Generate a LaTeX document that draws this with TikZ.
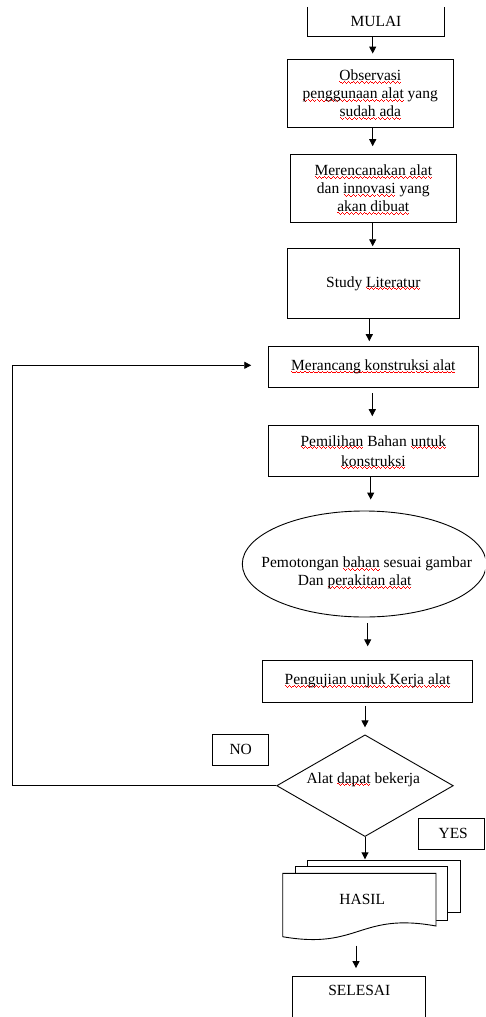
\documentclass[tikz,border=0pt]{standalone}
\usepackage{fontspec}
\setmainfont{Liberation Serif}
\usetikzlibrary{arrows.meta,shapes.geometric}
\newsavebox\sqbox
\newcommand\wavecell{\rule[-1.3pt]{1.1pt}{1pt}\rule[-2.1pt]{1.1pt}{1pt}\rule[-2.9pt]{1.1pt}{1pt}\rule[-2.1pt]{1.1pt}{1pt}}
\newcommand\sqw[1]{\sbox\sqbox{#1}\leavevmode\rlap{\smash{\color{red}\hbox to \wd\sqbox{\xleaders\hbox{\wavecell}\hfill}}}\usebox\sqbox}
\begin{document}
\begin{tikzpicture}[x=1pt,y=-1pt,
  every node/.append style={font=\fontsize{15.5}{18}\selectfont},
  line/.style={draw=black, line width=0.9pt},
  box/.style={line, inner sep=0pt, align=center},
  arr/.style={line, -{Triangle[length=7pt,width=7pt]}}]
\useasboundingbox (0,0) rectangle (485,1017);
\clip (0,0) rectangle (485,1017);

% MULAI (top edge outside the page)
\node[align=center, inner sep=0pt, minimum width=136pt, minimum height=29pt] (mulai) at (376,21.5) {MULAI};
\draw[line] (mulai.north west) -- (mulai.south west) -- (mulai.south east) -- (mulai.north east);

\node[box, minimum width=166pt, minimum height=68.4pt] (obs) at (370.3,93.5)
  {\sqw{Observasi}\\\sqw{penggunaan alat} yang\\\sqw{sudah ada}};
\node[box, minimum width=166.7pt, minimum height=68.7pt] (ren) at (373.3,188.3)
  {\sqw{Merencanakan alat}\\dan \sqw{innovasi} yang\\\sqw{akan dibuat}};
\node[box, minimum width=172pt, minimum height=70pt] (lit) at (373.3,283.3)
  {Study \sqw{Literatur}};
\node[box, minimum width=210pt, minimum height=41.7pt] (ranc) at (373.3,366.8)
  {\sqw{Merancang konstruksi alat}};
\node[box, minimum width=210pt, minimum height=51.7pt] (pil) at (373.3,450.8)
  {\sqw{Pemilihan} Bahan \sqw{untuk}\\[2pt]\sqw{konstruksi}};
\node[line, ellipse, inner sep=0pt, minimum width=244pt, minimum height=106pt,
  label={[align=center,xshift=2.4pt,yshift=-9pt]center:Pemotongan \sqw{bahan} sesuai gambar\\Dan \sqw{perakitan alat}\hspace*{24pt}}]
  (pot) at (364.3,564) {};
\node[box, minimum width=210.4pt, minimum height=42.3pt] (uji) at (367.5,681.2)
  {\sqw{Pengujian unjuk Kerja alat}};
\node[line, diamond, aspect=1.74, inner sep=0pt, minimum width=176.6pt, minimum height=101.7pt,
  label={[xshift=-1.7pt,yshift=6.4pt]center:Alat \sqw{dapat} bekerja}]
  (dia) at (365,785.7) {};
\node[box, minimum width=56pt, minimum height=31pt] (no) at (240.7,749.5) {NO};
\node[box, minimum width=65.6pt, minimum height=31pt] (yes) at (451.2,833.8) {\hspace*{4pt}YES};

% HASIL multi-document
\draw[line, fill=white] (307.7,860.7) rectangle (460.7,912.7);
\draw[line, fill=white] (295.7,866.7) rectangle (447.7,920);
\draw[line, fill=white] (282.7,873.3) -- (436,873.3) -- (436,926)
  .. controls (359,912) and (359,950) .. (282.7,936.7) -- cycle;
\node[inner sep=0pt, minimum width=153.3pt, minimum height=52.7pt] (hasil) at (359.3,899.7) {\hspace*{6pt}HASIL};
\coordinate (hasiltop) at (365,860.7);

% SELESAI (bottom edge outside the page)
\node[align=center, inner sep=0pt, minimum width=132.7pt, minimum height=28pt] (selesai) at (359.3,990.7) {SELESAI};
\draw[line] ([yshift=-30pt]selesai.south west) -- (selesai.north west) -- (selesai.north east) -- ([yshift=-30pt]selesai.south east);

% connectors
\draw[arr, shorten >=5.3pt] ([xshift=-3.3pt]mulai.south) -- ([xshift=2.4pt]obs.north);
\draw[arr, shorten >=7.3pt] ([xshift=2.4pt]obs.south) -- ([xshift=-0.6pt]ren.north);
\draw[arr, shorten >=1.6pt] ([xshift=-0.6pt]ren.south) -- ([xshift=-0.6pt]lit.north);
\draw[arr, shorten >=4.3pt] ([xshift=-4pt]lit.south) -- ([xshift=-4pt]ranc.north);
\draw[arr, shorten <=5pt, shorten >=8.3pt] ([xshift=-1pt]ranc.south) -- ([xshift=-1pt]pil.north);
\draw[arr, shorten >=11pt] ([xshift=-2.6pt]pil.south) -- ([xshift=6.4pt]pot.north);
\draw[arr, shorten <=6pt, shorten >=13.3pt] ([xshift=3.4pt]pot.south) -- ([xshift=0.2pt]uji.north);
\draw[arr, shorten <=3.4pt, shorten >=7pt] ([xshift=-2.5pt]uji.south) -- (dia.north);
\draw[arr, shorten >=1.4pt] (dia.south) -- (hasiltop);
\draw[arr, shorten <=19.3pt, shorten >=8.4pt] ([xshift=-3.3pt]hasil.south) -- ([xshift=-3.3pt]selesai.north);

% NO feedback loop
\coordinate (fb1) at (12.3,785.7);
\coordinate (fb2) at (12.3,365.3);
\draw[arr, shorten >=16.6pt] (dia.west) -- (fb1) -- (fb2) -- (fb2 -| ranc.west);
\end{tikzpicture}
\end{document}
